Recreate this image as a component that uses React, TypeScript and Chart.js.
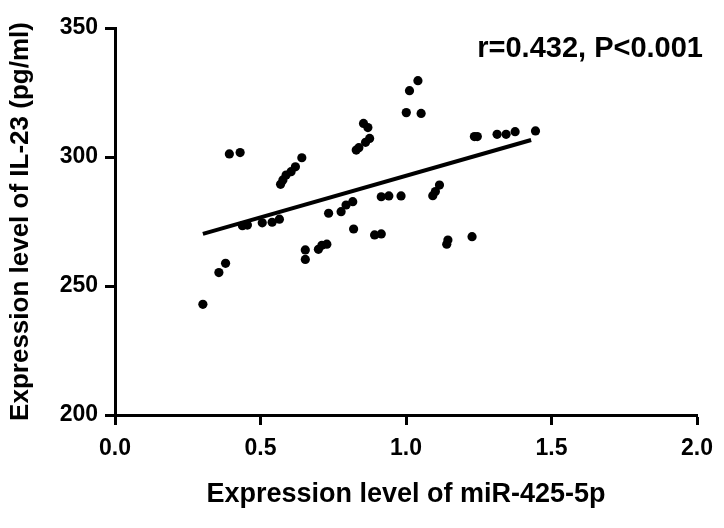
import React, { useEffect, useRef } from "react";
import { Chart, registerables } from "chart.js";

Chart.register(...registerables);

// miR-425-5p expression (x) and IL-23 level (y)
const xValues: number[] = [
  0.393, 0.430,
  0.642, 0.620, 0.605, 0.588, 0.577, 0.569,
  0.438, 0.455, 0.506, 0.540, 0.565,
  0.734, 0.777, 0.794, 0.817,
  0.820,
  0.654, 0.654, 0.699, 0.711, 0.728,
  0.380, 0.357, 0.302,
  0.854, 0.869, 0.875, 0.861, 0.838, 0.829,
  1.041, 1.012, 1.001, 1.052,
  1.235, 1.245, 1.313, 1.344, 1.375, 1.445,
  0.915, 0.941, 0.983,
  1.115, 1.101, 1.092,
  0.892, 0.915,
  1.144, 1.140, 1.227,
];
const yValues: number[] = [
  301.2, 301.7,
  299.7, 296.2, 294.3, 293.0, 291.1, 289.4,
  273.4, 273.6, 274.5, 274.7, 275.9,
  278.2, 278.8, 281.4, 282.7,
  272.1,
  264.0, 260.3, 264.2, 265.8, 266.2,
  258.8, 255.2, 242.9,
  313.0, 311.4, 307.2, 305.7, 303.6, 302.7,
  329.6, 325.7, 317.2, 316.9,
  307.9, 307.9, 308.8, 308.8, 309.8, 310.1,
  284.6, 284.9, 284.9,
  289.1, 286.6, 285.0,
  269.8, 270.2,
  267.8, 266.2, 269.1,
];

// regression line end points
const lineX: number[] = [0.302, 1.43];
const lineY: number[] = [270.2, 306.6];

const xTicks: number[] = [0, 0.5, 1.0, 1.5, 2.0];
const yTicks: number[] = [200, 250, 300, 350];

const xTitle = "Expression level of miR-425-5p";
const yTitle = "Expression level of IL-23 (pg/ml)";
const annotationText = "r=0.432, P<0.001";

const FAMILY = '"Liberation Sans", Arial, sans-serif';

const annotationPlugin = {
  id: "annotationText",
  afterDraw(chart: any) {
    const ctx = chart.ctx;
    ctx.save();
    ctx.font = `bold 29px ${FAMILY}`;
    ctx.fillStyle = "#000";
    ctx.textAlign = "right";
    ctx.textBaseline = "alphabetic";
    ctx.fillText(annotationText, chart.chartArea.right + 6, chart.chartArea.top + 29);
    ctx.restore();
  },
};

export default function App() {
  const ref = useRef<HTMLCanvasElement | null>(null);

  useEffect(() => {
    if (!ref.current) return;
    const points = xValues.map((x, i) => ({ x, y: yValues[i] }));
    const line = lineX.map((x, i) => ({ x, y: lineY[i] }));
    const chart = new Chart(ref.current, {
      type: "scatter",
      data: {
        datasets: [
          {
            data: line,
            showLine: true,
            borderColor: "#000",
            borderWidth: 4,
            pointRadius: 0,
            fill: false,
          },
          {
            data: points,
            showLine: false,
            pointRadius: 4.6,
            pointBackgroundColor: "#000",
            pointBorderColor: "#000",
            pointBorderWidth: 0,
          },
        ],
      },
      options: {
        animation: false,
        responsive: false,
        events: [],
        layout: { padding: { top: 28, right: 27, left: 0, bottom: 0 } },
        plugins: { legend: { display: false }, tooltip: { enabled: false } },
        scales: {
          x: {
            type: "linear",
            min: 0,
            max: 2,
            afterFit: (s: any) => {
              s.height = 113;
            },
            afterBuildTicks: (s: any) => {
              s.ticks = xTicks.map((v) => ({ value: v }));
            },
            ticks: {
              color: "#000",
              padding: 10,
              maxRotation: 0,
              font: { family: FAMILY, size: 23, weight: "bold" },
              callback: (v: any) => Number(v).toFixed(1),
            },
            grid: {
              drawOnChartArea: false,
              drawTicks: true,
              tickLength: 10,
              tickWidth: 3,
              tickColor: "#000",
              color: "#000",
            },
            border: { display: true, color: "#000", width: 3 },
            title: {
              display: true,
              text: xTitle,
              color: "#000",
              font: { family: FAMILY, size: 27, weight: "bold" },
              padding: { top: 0, bottom: 17 },
            },
          },
          y: {
            type: "linear",
            min: 200,
            max: 350,
            afterFit: (s: any) => {
              s.width = 115;
            },
            afterBuildTicks: (s: any) => {
              s.ticks = yTicks.map((v) => ({ value: v }));
            },
            ticks: {
              color: "#000",
              padding: 7,
              font: { family: FAMILY, size: 23, weight: "bold" },
              callback: (v: any) => String(v),
            },
            grid: {
              drawOnChartArea: false,
              drawTicks: true,
              tickLength: 10,
              tickWidth: 3,
              tickColor: "#000",
              color: "#000",
            },
            border: { display: true, color: "#000", width: 3 },
            title: {
              display: true,
              text: yTitle,
              color: "#000",
              font: { family: FAMILY, size: 26, weight: "bold" },
              padding: { top: 5, bottom: 0 },
            },
          },
        },
      },
      plugins: [annotationPlugin],
    });
    return () => chart.destroy();
  }, []);

  return (
    <div style={{ position: "absolute", left: 0, top: 0, width: 724, height: 528, background: "#fff" }}>
      <canvas ref={ref} width={724} height={528} style={{ display: "block", width: 724, height: 528 }} />
    </div>
  );
}
